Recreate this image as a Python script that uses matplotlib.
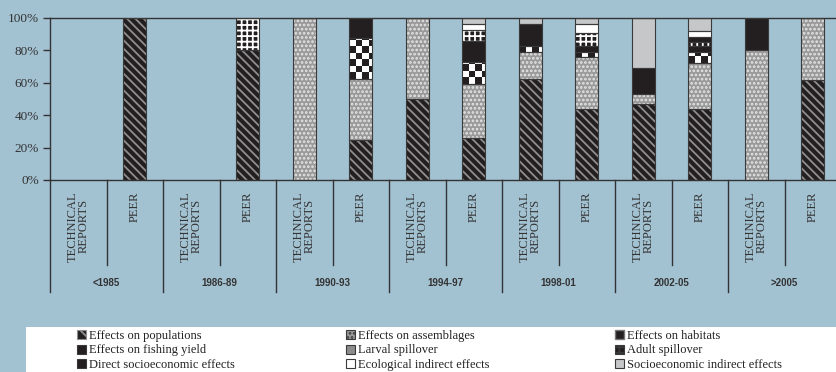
import numpy as np
import matplotlib
matplotlib.use("Agg")
from matplotlib import pyplot as plt
from matplotlib.patches import Patch, Rectangle
from matplotlib.colors import ListedColormap

# ======== Data ========
periods = ["<1985", "1986-89", "1990-93", "1994-97", "1998-01", "2002-05", ">2005"]
sources = ["TECHNICAL\nREPORTS", "PEER"]

# one value per bar: (period, source) pairs in order, percent of studies
populations   = [0, 100, 0, 80, 0, 25.0, 50, 26.0, 62.5, 44, 47, 44, 0, 62]
assemblages   = [0, 0, 0, 0, 100, 37.5, 50, 33.0, 16.5, 32, 6, 28, 80, 38]
habitats      = [0, 0, 0, 0, 0, 25.0, 0, 14.0, 4.0, 3, 0, 7, 0, 0]
fishing_yield = [0, 0, 0, 0, 0, 12.5, 0, 13.0, 13.0, 4, 16, 4, 20, 0]
larval        = [0, 0, 0, 0, 0, 0, 0, 0, 0, 0, 0, 0, 0, 0]
adult         = [0, 0, 0, 20, 0, 0, 0, 6.5, 0, 8, 0, 2, 0, 0]
direct_socio  = [0, 0, 0, 0, 0, 0, 0, 0, 0, 0, 0, 3, 0, 0]
eco_indirect  = [0, 0, 0, 0, 0, 0, 0, 3.5, 0, 5, 0, 4, 0, 0]
socio_indir   = [0, 0, 0, 0, 0, 0, 0, 4.0, 4.0, 4, 31, 8, 0, 0]

series = [
    ("Effects on populations", populations),
    ("Effects on assemblages", assemblages),
    ("Effects on habitats", habitats),
    ("Effects on fishing yield", fishing_yield),
    ("Larval spillover", larval),
    ("Adult spillover", adult),
    ("Direct socioeconomic effects", direct_socio),
    ("Ecological indirect effects", eco_indirect),
    ("Socioeconomic indirect effects", socio_indir),
]

# ======== Styles ========
BG = "#a2c1d1"
DARK = "#231f20"
OUTLINE = "#3a3a3a"
# (face, hatch, hatch colour)
styles = {
    "Effects on populations": (DARK, "\\\\\\\\", "#8f8f8f"),
    "Effects on assemblages": ("#999999", "....", "#e6e6e6"),
    "Effects on habitats": ("white", None, None),  # checkerboard drawn separately
    "Effects on fishing yield": (DARK, None, None),
    "Larval spillover": ("#8c8c8c", None, None),
    "Adult spillover": (DARK, "+++", "white"),
    "Direct socioeconomic effects": (DARK, None, None),
    "Ecological indirect effects": ("white", None, None),
    "Socioeconomic indirect effects": ("#c6c7c8", None, None),
}

plt.rcParams["hatch.linewidth"] = 1.3
SERIF = "Liberation Serif"
SANS = "Liberation Sans"

W, H = 836, 372
fig = plt.figure(figsize=(W / 100, H / 100), dpi=100, facecolor=BG)

# axes: 0% at y=180px, 100% at y=18px, 14 slots of ~56.5px from x=50
ax_left, ax_right = 50 / W, (50 + 14 * 56.5) / W
ax_bot, ax_top = 1 - 180 / H, 1 - 18 / H
ax = fig.add_axes([ax_left, ax_bot, ax_right - ax_left, ax_top - ax_bot])
ax.set_facecolor(BG)

n_bars = len(periods) * len(sources)
x = np.arange(n_bars)
bw = 0.41

bottom = np.zeros(n_bars)
checker_cmap = ListedColormap([DARK, "white"])
for name, vals in series:
    vals = np.asarray(vals, dtype=float)
    face, hatch, hcol = styles[name]
    ax.bar(x, vals, bw, bottom=bottom, color=face, hatch=hatch,
           edgecolor=hcol if hcol else face, linewidth=0, zorder=2)
    if name == "Effects on habitats":
        cell_pct = (bw * 56.5 / 3.6) / 1.62
        for xi, v, b in zip(x, vals, bottom):
            if v <= 0:
                continue
            ny = max(1, int(np.ceil(v / cell_pct)))
            grid = (np.add.outer(np.arange(ny), np.arange(4)) % 2).astype(float)
            im = ax.imshow(grid, cmap=checker_cmap, interpolation="nearest", aspect="auto",
                           extent=[xi - bw / 2, xi - bw / 2 + 4 * bw / 3.6, b, b + ny * cell_pct],
                           origin="lower", zorder=2.5)
            # clip to the segment
            im.set_clip_path(Rectangle((xi - bw / 2, b), bw, v, transform=ax.transData))
    ax.bar(x, np.where(vals > 0, vals, np.nan), bw, bottom=bottom, fill=False,
           edgecolor=OUTLINE, linewidth=0.8, zorder=3)
    bottom += vals

ax.set_xlim(-0.5, n_bars - 0.5)
ax.set_ylim(0, 100)
ax.set_yticks(range(0, 101, 20))
ax.set_yticklabels([f"{v}%" for v in range(0, 101, 20)], fontfamily=SERIF,
                   fontsize=9.5, color="#333333")
ax.tick_params(axis="y", direction="out", length=5, width=1, color="#333333", pad=3)
ax.set_xticks([])
for side in ["left", "bottom", "top"]:
    ax.spines[side].set_color("#333333")
    ax.spines[side].set_linewidth(1)
ax.spines["right"].set_visible(False)

# ======== Category table under the axis ========
px = 1 / 162.0
trans = ax.get_xaxis_transform()
for k in range(n_bars + 1):
    depth = -(292 - 180) * px if k % 2 == 0 else -(265 - 180) * px
    ax.plot([k - 0.5, k - 0.5], [0, depth], color="#333333", lw=1,
            transform=trans, clip_on=False)

for i in range(n_bars):
    ax.text(i, -(191 - 180) * px, sources[i % 2], rotation=90, ha="center", va="top",
            multialignment="center", fontfamily=SERIF, fontsize=9, color="#333333",
            linespacing=0.95, transform=trans)

for g, p in enumerate(periods):
    ax.text(2 * g + 0.5, -(283 - 180) * px, p, ha="center", va="center",
            fontfamily=SANS, fontweight="bold", fontsize=7, color="#333333",
            transform=trans)

# ======== Legend ========
fig.patches.append(Rectangle((26 / W, 0), 1, (H - 327) / H, transform=fig.transFigure,
                             facecolor="white", edgecolor="none", zorder=0))

def handle(name):
    face, hatch, hcol = styles[name]
    if name == "Effects on habitats":
        return Patch(facecolor=DARK, edgecolor="#777777", linewidth=1)
    if name == "Effects on populations":
        return Patch(facecolor=face, hatch="\\\\", edgecolor=hcol, linewidth=0.8)
    return Patch(facecolor=face, hatch=hatch, edgecolor=OUTLINE, linewidth=0.8)

names = [s[0] for s in series]
col_x = [77, 346, 615]
for c in range(3):
    col_names = names[c::3]
    leg = fig.legend([handle(n) for n in col_names], col_names, loc="upper left",
                     bbox_to_anchor=(col_x[c] / W, 1 - 330 / H), frameon=False,
                     borderpad=0, borderaxespad=0, handlelength=0.75, handleheight=0.75,
                     handletextpad=0.2, labelspacing=0.2,
                     prop={"family": SERIF, "size": 9})
    for t in leg.get_texts():
        t.set_color("#222222")

fig.savefig("out.png", dpi=100, facecolor=BG)
